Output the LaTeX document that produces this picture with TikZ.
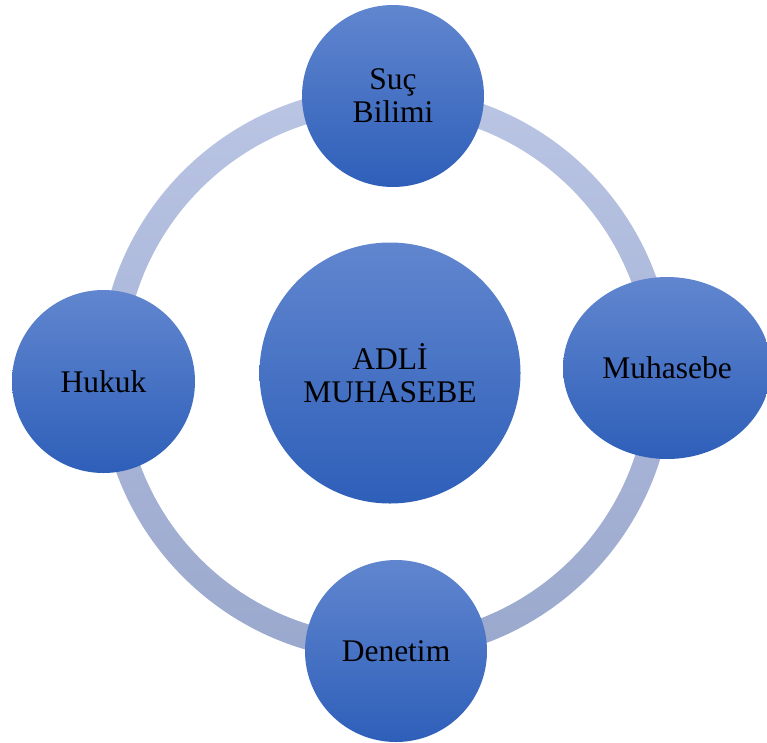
\documentclass[tikz,border=0pt]{standalone}
\usepackage{fontspec}
\setmainfont{Liberation Serif}
\usetikzlibrary{shapes.geometric}

\definecolor{bluetop}{HTML}{6186CF}
\definecolor{bluebot}{HTML}{2E5FB9}
\definecolor{ringtop}{HTML}{BAC5E4}
\definecolor{ringbot}{HTML}{9AA8CD}

\begin{document}
\begin{tikzpicture}[x=1pt,y=-1pt,
  bubble/.style={circle,inner sep=0pt,top color=bluetop,bottom color=bluebot,
    align=center,font=\fontsize{31.5}{33}\selectfont}]
\clip (0,0) rectangle (767,742);
% ring behind the circles
\coordinate (o) at (386,374);
\shade[top color=ringtop,bottom color=ringbot,even odd rule]
  (o) circle[radius=287] (o) circle[radius=262];

% centre
\node[bubble,minimum size=261pt] (adli) at (390,373) {ADL\.I\\MUHASEBE};

% around
\node[bubble,minimum size=182pt] (sucbilimi) at (393,96) {Suç\\Bilimi};
\node[bubble,ellipse,minimum width=208pt,minimum height=182pt] (muhasebe) at (667,368) {Muhasebe};
\node[bubble,minimum size=182pt] (denetim) at (396,651) {Denetim};
\node[bubble,minimum size=183pt] (hukuk) at (103.5,381.5) {Hukuk};
\end{tikzpicture}
\end{document}
